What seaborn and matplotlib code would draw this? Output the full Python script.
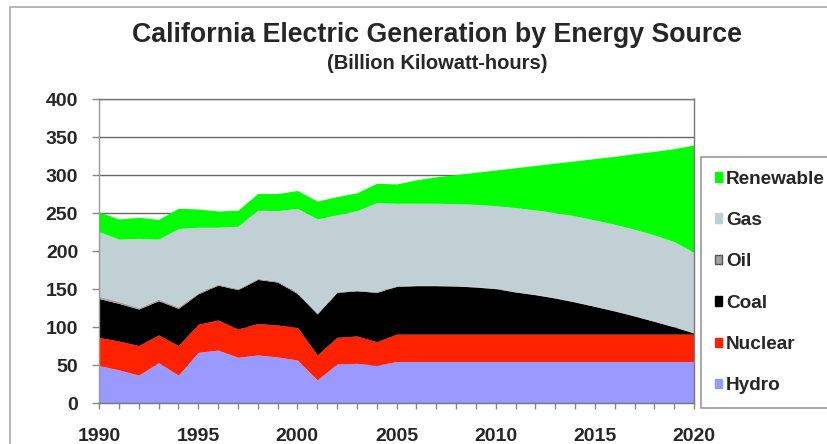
import numpy as np
import pandas as pd
import matplotlib
matplotlib.use("Agg")
import matplotlib.pyplot as plt
from matplotlib.patches import Patch, Rectangle
import seaborn as sns

# データ (Billion kWh)
years = list(range(1990, 2021))
hydro = [49.6, 44, 37, 53.5, 37, 67, 70, 60.5, 63.6, 61, 57, 30.7, 51.8, 52.6, 50, 55,
         55, 55, 55, 55, 55, 55, 55, 55, 55, 55, 55, 55, 55, 55, 55]
nuclear = [37, 38, 39, 36.5, 39, 37, 39.6, 37.3, 41.4, 42, 43, 33, 35, 36, 31, 36,
           36, 36, 36, 36, 36, 36, 36, 36, 36, 36, 36, 36, 36, 36, 36]
coal = [51.2, 49.5, 48, 45, 49, 40.1, 45.9, 51.7, 58, 56.5, 44.5, 53.9, 59.2, 59.4, 65, 62.8,
        63.8, 63.8, 63.3, 62, 59.8, 55.5, 51.9, 47.5, 42.3, 36.5, 30.5, 23.9, 16.8, 9.5, 1.5]
oil = [3, 2.5, 2, 2, 2, 1.5, 1.5, 1.5, 1.5, 1.5, 1.5, 1.5, 1, 1, 1, 1,
       0.5, 0.5, 0.5, 0.5, 0.5, 0.5, 0.5, 0.5, 0.5, 0.5, 0.5, 0.5, 0.5, 0.5, 0.5]
gas = [85, 82, 91, 79, 103, 86, 74.6, 82, 89.5, 92.5, 110.6, 123.5, 101, 104.5, 117, 108.4,
       107.9, 107.9, 107.9, 108.3, 108.7, 110.5, 111, 111.9, 112.7, 113.2, 113.5, 113.6, 113.2, 111.7, 105.7]
renewable = [26, 26.5, 27.7, 26, 26.6, 24.1, 21.4, 21, 22, 22.5, 23.4, 23.5, 24, 23.5, 25.5, 25.4,
             30.8, 34.8, 38.3, 42.2, 47, 52.5, 58.6, 65.1, 72.5, 80.8, 89.5, 99.5, 110, 122.3, 141.3]

labels = ["Hydro", "Nuclear", "Coal", "Oil", "Gas", "Renewable"]
colors = ["#9999FF", "#FF2200", "#000000", "#A0A0A0", "#C0D0D4", "#00FF00"]

df = pd.DataFrame({"Hydro": hydro, "Nuclear": nuclear, "Coal": coal,
                   "Oil": oil, "Gas": gas, "Renewable": renewable}, index=years)

sns.set_theme(style="white")
plt.rcParams['font.family'] = ['Liberation Sans', 'DejaVu Sans']
plt.rcParams['font.weight'] = 'bold'

fig = plt.figure(figsize=(8.27, 4.44), dpi=100)
fig.patch.set_facecolor('white')
ax = fig.add_axes([99/827, 40.7/444, 595/827, 304/444])

# 積み上げ面グラフ
ax.stackplot(df.index, [df[c] for c in labels], colors=colors, linewidth=0, zorder=2)

ax.set_xlim(1990, 2020)
ax.set_ylim(0, 400)
ax.set_yticks(np.arange(0, 401, 50))
ax.set_xticks(np.arange(1990, 2021, 5))
ax.set_xticks(np.arange(1990, 2021, 1), minor=True)
ax.yaxis.grid(True, color='#666666', linewidth=1.0, zorder=0)
ax.set_axisbelow(True)
for s in ax.spines.values():
    s.set_color('#777777')
    s.set_linewidth(1.0)
ax.spines['left'].set_color('#999999')
ax.tick_params(axis='y', which='major', direction='out', length=5, width=1, color='#888888',
               labelsize=14, pad=10, left=True)
ax.tick_params(axis='x', which='both', direction='out', length=4, width=1, color='#888888',
               labelsize=14, pad=14, bottom=True)
for lab in ax.get_xticklabels() + ax.get_yticklabels():
    lab.set_fontweight('bold')

# タイトル
fig.text(437/827, 1 - 41.5/444, "California Electric Generation by Energy Source",
         ha='center', va='baseline', fontsize=19.3, fontweight='bold')
fig.text(437/827, 1 - 69.3/444, "(Billion Kilowatt-hours)",
         ha='center', va='baseline', fontsize=14.5, fontweight='bold')

# 凡例 (上から Renewable)
handles = []
for lab, col in zip(labels[::-1], colors[::-1]):
    ec = '#555555' if lab == 'Oil' else col
    handles.append(Patch(facecolor=col, edgecolor=ec, linewidth=1, label=lab))
leg = fig.legend(handles=handles, loc='upper left', bbox_to_anchor=(701/827, 1 - 157/444),
                 fontsize=13.7, frameon=True, fancybox=False, framealpha=1,
                 edgecolor='#999999', handlelength=0.4, handleheight=0.4,
                 handletextpad=0.2, labelspacing=1.28, borderpad=0.72, borderaxespad=0)
leg.get_frame().set_linewidth(1.2)
for t in leg.get_texts():
    t.set_fontweight('bold')

# 外枠
fig.add_artist(Rectangle((10/827, -0.5), 2, 0.5 + 1 - 7/444, transform=fig.transFigure,
                         fill=False, edgecolor='#AAAAAA', linewidth=1.2))

fig.savefig("out.png", dpi=100)
